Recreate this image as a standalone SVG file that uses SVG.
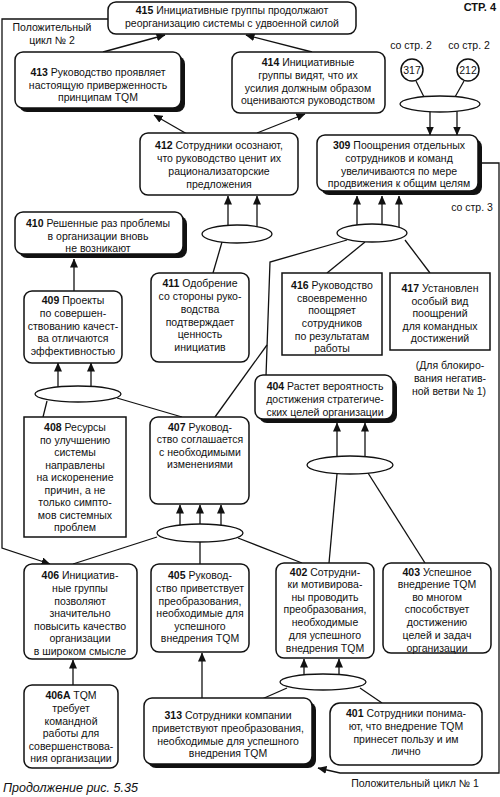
<svg xmlns="http://www.w3.org/2000/svg" width="500" height="797" viewBox="0 0 500 797">
<defs>
<marker id="ah" markerUnits="userSpaceOnUse" markerWidth="9" markerHeight="8" refX="8.5" refY="4" orient="auto">
<path d="M0,0 L9,4 L0,8 z" fill="#111"/>
</marker>
<style>
text{font-family:"Liberation Sans",Arial,sans-serif;font-size:10.5px;fill:#111;text-anchor:middle}
.b{font-weight:bold}
.box{fill:#fff;stroke:#111;stroke-width:1.5}
.sh{fill:#111}
.el{fill:#fff;stroke:#111;stroke-width:1.3}
.ln{fill:none;stroke:#111;stroke-width:1.3}
.ar{fill:none;stroke:#111;stroke-width:1.3;marker-end:url(#ah)}
.cap{font-style:italic;font-size:12.5px;text-anchor:start}
</style>
</defs>
<rect width="500" height="797" fill="#fff"/>

<g id="connectors">
<path class="ar" d="M108,19 H2 V548 L50,564"/>
<path class="ar" d="M482,163 H499 V773 H340 L318,768"/>
<path class="ar" d="M103,52 L165,35"/>
<path class="ar" d="M312,52 L246,35"/>
<path class="ar" d="M187,134 L154,115"/>
<path class="ar" d="M257,133 L305,114"/>
<path class="ln" d="M416,81 L424,97"/>
<path class="ln" d="M464,81 L455,97"/>
<path class="ar" d="M430,112 V135"/>
<path class="ar" d="M457,111 V135"/>
<path class="ar" d="M228,226 V196"/>
<path class="ar" d="M257,227 V196"/>
<path class="ln" d="M213,273 L222,242"/>
<path class="ar" d="M357,225 V196"/>
<path class="ar" d="M382,224 V196"/>
<path class="ar" d="M399,227 V196"/>
<path class="ln" d="M347,240 L270,262 L266,376"/>
<path class="ln" d="M215,417 L267,345"/>
<path class="ln" d="M365,242 L327,273"/>
<path class="ln" d="M405,240 L430,273"/>
<path class="ar" d="M74,291 V259"/>
<path class="ar" d="M58,387 V363"/>
<path class="ar" d="M91,387 V363"/>
<path class="ln" d="M47,401 L43,417"/>
<path class="ln" d="M117,398 L182,417"/>
<path class="ar" d="M337,457 V423"/>
<path class="ar" d="M365,457 V423"/>
<path class="ln" d="M337,474 L329,563"/>
<path class="ln" d="M368,473 L425,563"/>
<path class="ar" d="M180,525 V505"/>
<path class="ar" d="M200,524 V505"/>
<path class="ar" d="M221,526 V505"/>
<path class="ln" d="M157,537 L73,564"/>
<path class="ln" d="M200,542 V564"/>
<path class="ln" d="M238,538 L302,563"/>
<path class="ar" d="M304,676 V659"/>
<path class="ar" d="M339,676 V659"/>
<path class="ln" d="M287,688 L262,699"/>
<path class="ln" d="M360,688 L382,703"/>
<path class="ar" d="M73,685 V660"/>
<path class="ar" d="M202,698 V653"/>
</g>

<g id="ellipses">
<ellipse class="el" cx="440" cy="104" rx="40" ry="8"/>
<ellipse class="el" cx="237" cy="234" rx="35" ry="9"/>
<ellipse class="el" cx="372" cy="233" rx="35" ry="9"/>
<ellipse class="el" cx="78" cy="394" rx="43" ry="8"/>
<ellipse class="el" cx="350" cy="465" rx="43" ry="9"/>
<ellipse class="el" cx="200" cy="533" rx="43" ry="9"/>
<ellipse class="el" cx="323" cy="682" rx="43" ry="8"/>
</g>

<g id="labels">
<text x="496" y="11" class="b" style="text-anchor:end;font-size:11px">СТР. 4</text>
<text x="52" y="31">Положительный</text>
<text x="52" y="44">цикл № 2</text>
<text x="411" y="49">со стр. 2</text>
<text x="469" y="49">со стр. 2</text>
<text x="472" y="211">со стр. 3</text>
<text x="450" y="369">(Для блокиро-</text>
<text x="450" y="382">вания негатив-</text>
<text x="449" y="395">ной ветви № 1)</text>
<text x="415" y="787">Положительный цикл № 1</text>
<text x="3" y="792" class="cap">Продолжение рис. 5.35</text>
</g>

<g id="n317"><circle cx="412" cy="70" r="11" class="box"/><text x="412" y="74">317</text></g>
<g id="n212"><circle cx="468" cy="70" r="11" class="box"/><text x="468" y="74">212</text></g>

<g id="n415">
<rect class="box" x="108" y="2" width="248" height="32" rx="8"/>
<text x="232" y="14"><tspan class="b">415</tspan> Инициативные группы продолжают</text>
<text x="232" y="27">реорганизацию системы с удвоенной силой</text>
</g>

<g id="n413">
<rect class="sh" x="19" y="56" width="166" height="56" rx="8"/>
<rect class="box" x="15" y="52" width="166" height="56" rx="8"/>
<text x="98" y="76"><tspan class="b">413</tspan> Руководство проявляет</text>
<text x="98" y="89">настоящую приверженность</text>
<text x="98" y="101">принципам TQM</text>
</g>

<g id="n414">
<rect class="box" x="232" y="52" width="153" height="61" rx="8"/>
<text x="308" y="66"><tspan class="b">414</tspan> Инициативные</text>
<text x="308" y="79">группы видят, что их</text>
<text x="308" y="92">усилия должным образом</text>
<text x="308" y="104">оцениваются руководством</text>
</g>

<g id="n412">
<rect class="box" x="140" y="133" width="158" height="62" rx="8"/>
<text x="219" y="149"><tspan class="b">412</tspan> Сотрудники осознают,</text>
<text x="219" y="162">что руководство ценит их</text>
<text x="219" y="175">рационализаторские</text>
<text x="219" y="188">предложения</text>
</g>

<g id="n309">
<rect class="sh" x="321" y="139" width="161" height="56" rx="8"/>
<rect class="box" x="317" y="135" width="161" height="56" rx="8"/>
<text x="399" y="149"><tspan class="b">309</tspan> Поощрения отдельных</text>
<text x="399" y="162">сотрудников и команд</text>
<text x="399" y="175">увеличиваются по мере</text>
<text x="399" y="187">продвижения к общим целям</text>
</g>

<g id="n410">
<rect class="sh" x="19" y="216" width="168" height="42" rx="8"/>
<rect class="box" x="15" y="212" width="168" height="42" rx="8"/>
<text x="98" y="227"><tspan class="b">410</tspan> Решенные раз проблемы</text>
<text x="98" y="240">в организации вновь</text>
<text x="98" y="252">не возникают</text>
</g>

<g id="n411">
<rect class="box" x="151" y="273" width="98" height="89" rx="8"/>
<text x="200" y="287"><tspan class="b">411</tspan> Одобрение</text>
<text x="200" y="300">со стороны руко-</text>
<text x="200" y="313">водства</text>
<text x="200" y="326">подтверждает</text>
<text x="200" y="338">ценность</text>
<text x="200" y="351">инициатив</text>
</g>

<g id="n416">
<rect class="box" x="282" y="273" width="100" height="82"/>
<text x="332" y="289"><tspan class="b">416</tspan> Руководство</text>
<text x="332" y="302">своевременно</text>
<text x="332" y="314">поощряет</text>
<text x="332" y="327">сотрудников</text>
<text x="332" y="340">по результатам</text>
<text x="332" y="352">работы</text>
</g>

<g id="n417">
<rect class="box" x="390" y="273" width="100" height="77"/>
<text x="440" y="292"><tspan class="b">417</tspan> Установлен</text>
<text x="440" y="305">особый вид</text>
<text x="440" y="317">поощрений</text>
<text x="440" y="330">для командных</text>
<text x="440" y="342">достижений</text>
</g>

<g id="n409">
<rect class="box" x="24" y="291" width="98" height="72" rx="8"/>
<text x="73" y="304"><tspan class="b">409</tspan> Проекты</text>
<text x="73" y="317">по совершен-</text>
<text x="73" y="330">ствованию качест-</text>
<text x="73" y="342">ва отличаются</text>
<text x="73" y="355">эффективностью</text>
</g>

<g id="n404">
<rect class="sh" x="259" y="379" width="138" height="44" rx="8"/>
<rect class="box" x="255" y="375" width="138" height="44" rx="8"/>
<text x="325" y="390"><tspan class="b">404</tspan> Растет вероятность</text>
<text x="325" y="403">достижения стратегиче-</text>
<text x="325" y="416">ских целей организации</text>
</g>

<g id="n408">
<rect class="box" x="24" y="417" width="102" height="120"/>
<text x="75" y="431"><tspan class="b">408</tspan> Ресурсы</text>
<text x="75" y="444">по улучшению</text>
<text x="75" y="456">системы</text>
<text x="75" y="469">направлены</text>
<text x="75" y="481">на искоренение</text>
<text x="75" y="494">причин, а не</text>
<text x="75" y="506">только симпто-</text>
<text x="75" y="519">мов системных</text>
<text x="75" y="531">проблем</text>
</g>

<g id="n407">
<rect class="box" x="150" y="417" width="99" height="87" rx="8"/>
<text x="200" y="431"><tspan class="b">407</tspan> Руковод-</text>
<text x="200" y="443">ство соглашается</text>
<text x="200" y="456">с необходимыми</text>
<text x="200" y="468">изменениями</text>
</g>

<g id="n406">
<rect class="box" x="24" y="564" width="113" height="95" rx="8"/>
<text x="80" y="579"><tspan class="b">406</tspan> Инициатив-</text>
<text x="80" y="592">ные группы</text>
<text x="80" y="605">позволяют</text>
<text x="80" y="617">значительно</text>
<text x="80" y="630">повысить качество</text>
<text x="80" y="642">организации</text>
<text x="80" y="655">в широком смысле</text>
</g>

<g id="n405">
<rect class="box" x="151" y="564" width="98" height="88" rx="8"/>
<text x="200" y="579"><tspan class="b">405</tspan> Руковод-</text>
<text x="200" y="592">ство приветствует</text>
<text x="200" y="605">преобразования,</text>
<text x="200" y="617">необходимые для</text>
<text x="200" y="630">успешного</text>
<text x="200" y="642">внедрения TQM</text>
</g>

<g id="n402">
<rect class="box" x="276" y="563" width="98" height="95" rx="8"/>
<text x="325" y="576"><tspan class="b">402</tspan> Сотрудни-</text>
<text x="325" y="588">ки мотивирова-</text>
<text x="325" y="601">ны проводить</text>
<text x="325" y="613">преобразования,</text>
<text x="325" y="626">необходимые</text>
<text x="325" y="639">для успешного</text>
<text x="325" y="652">внедрения TQM</text>
</g>

<g id="n403">
<rect class="box" x="383" y="563" width="108" height="90" rx="8"/>
<text x="437" y="576"><tspan class="b">403</tspan> Успешное</text>
<text x="437" y="588">внедрение TQM</text>
<text x="437" y="601">во многом</text>
<text x="437" y="613">способствует</text>
<text x="437" y="626">достижению</text>
<text x="437" y="639">целей и задач</text>
<text x="437" y="652">организации</text>
</g>

<g id="n406A">
<rect class="box" x="24" y="685" width="94" height="83" rx="8"/>
<text x="71" y="699"><tspan class="b">406A</tspan> TQM</text>
<text x="71" y="712">требует</text>
<text x="71" y="725">командной</text>
<text x="71" y="737">работы для</text>
<text x="71" y="750">совершенствова-</text>
<text x="71" y="762">ния организации</text>
</g>

<g id="n313">
<rect class="sh" x="148" y="702" width="168" height="66" rx="8"/>
<rect class="box" x="144" y="698" width="168" height="66" rx="8"/>
<text x="228" y="719"><tspan class="b">313</tspan> Сотрудники компании</text>
<text x="228" y="732">приветствуют преобразования,</text>
<text x="228" y="745">необходимые для успешного</text>
<text x="228" y="757">внедрения TQM</text>
</g>

<g id="n401">
<rect class="box" x="330" y="703" width="152" height="62" rx="10"/>
<text x="406" y="717"><tspan class="b">401</tspan> Сотрудники понима-</text>
<text x="406" y="730">ют, что внедрение TQM</text>
<text x="406" y="743">принесет пользу и им</text>
<text x="406" y="755">лично</text>
</g>
</svg>
